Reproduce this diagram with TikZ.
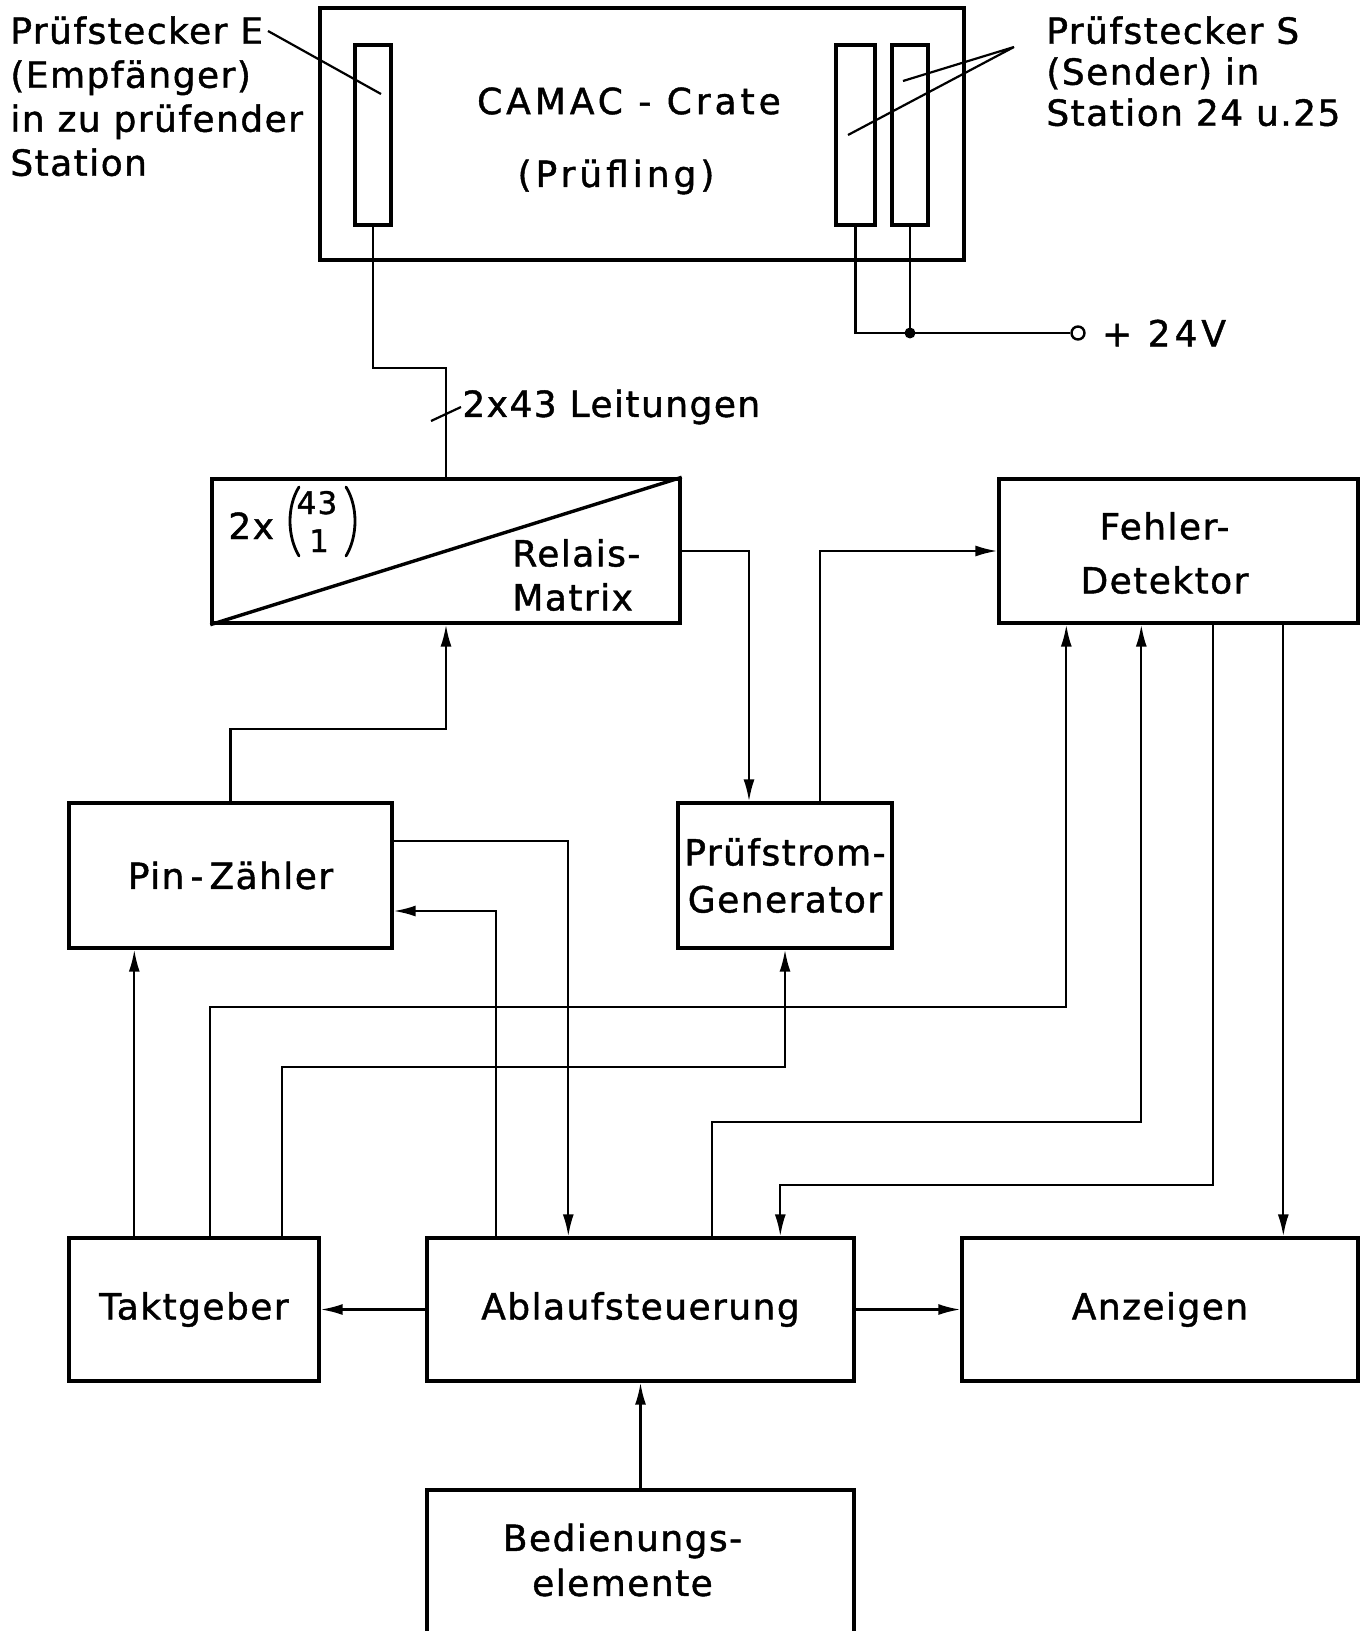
\documentclass[tikz,border=0pt]{standalone}
\usepackage{fontspec}
\setmainfont{DejaVu Sans}[LetterSpace=4,FakeBold=1.2]
\usetikzlibrary{arrows.meta,positioning,calc}

\begin{document}
\begin{tikzpicture}[
  x=0.5pt, y=-0.5pt,
  every node/.style={font=\fontsize{18}{22}\selectfont, align=center},
  block/.style={rectangle, draw, line width=1.7pt, inner sep=2pt},
  slot/.style={rectangle, draw, line width=1.6pt, minimum width=18pt, minimum height=90pt, inner sep=0pt},
  note/.style={align=left, inner sep=0pt},
  spaced/.style={font=\fontsize{18}{22}\selectfont\addfontfeature{LetterSpace=11}},
  digit/.style={font=\fontsize{15.5}{18}\selectfont, inner sep=0pt, anchor=base},
  paren/.style={line width=1.4pt, line cap=round},
  wire/.style={draw, line width=1.1pt},
  sig/.style={draw, line width=1.1pt, -{Latex[length=11pt,width=5.5pt]}},
  dot/.style={circle, fill, inner sep=0pt, minimum size=5.5pt},
  terminal/.style={circle, draw, line width=1.2pt, inner sep=0pt, minimum size=6.5pt}
]
  \useasboundingbox (0,0) rectangle (1366,1631);

  \node[block, minimum width=322pt, minimum height=126pt] (crate) at (642,134) {};
  \node[spaced] (cratetxt) at (629,101) {CAMAC - Crate};
  \node[spaced] (pruefl) at (616,177) {(Prüfling)};
  \node[slot] (slotE) at (373,135) {};
  \node[slot, minimum width=19.5pt] (slotS1) at (855.5,135) {};
  \node[slot] (slotS2) at (910,135) {};

  \node[note, anchor=north west] (lblE) at (10,16) {Prüfstecker E\\(Empfänger)\\in zu prüfender\\Station};
  \node[note, anchor=north west, font=\fontsize{18}{20.5}\selectfont] (lblS) at (1046,16) {Prüfstecker S\\(Sender) in\\Station 24 u.25};
  \coordinate (eStart) at (268,31);
  \coordinate (eTip) at (381,94);
  \coordinate (sApex) at (1014,47);
  \coordinate (sTip1) at (903,81);
  \coordinate (sTip2) at (848,135);
  \draw[wire] (eStart) -- (eTip);
  \draw[wire] (sTip1) -- (sApex) -- (sTip2);

  \node[terminal] (vplus) at (1078,333) {};
  \node[right=8pt of vplus, inner sep=0pt, spaced] (vlab) {+ 24V};
  \node[dot] (junc) at (slotS2.south |- vplus) {};
  \draw[wire] (slotS1.south) |- (vplus.west);
  \draw[wire] (slotS2.south) -- (junc.center);

  \node[block, minimum width=234pt, minimum height=72pt] (relais) at (446,551) {};
  \draw[line width=1.7pt] (relais.south west) -- (relais.north east);
  \node[anchor=base west, inner sep=0pt] (twox) at (228,539) {2x};
  \node[digit] (nTop) at (317,514) {43};
  \node[digit] (nBot) at (319,552) {1};
  \draw[paren] (299,487) .. controls (287,506) and (287,536) .. (299,556);
  \draw[paren] (346,487) .. controls (358,506) and (358,536) .. (346,556);
  \node[note, anchor=west] (relaistxt) at (512,575) {Relais-\\Matrix};

  \node[block, minimum width=179.5pt, minimum height=72pt] (fehler) at (1178.5,551) {};
  \node[font=\fontsize{18}{27}\selectfont] (fehlertxt) at ($(fehler)+(-14,2)$) {Fehler-\\Detektor};
  \node[block, minimum width=161.5pt, minimum height=72.5pt] (pinz) at (230.5,875.5) {Pin\,-\,Zähler};
  \node[block, minimum width=107pt, minimum height=72.5pt, inner sep=1pt, font=\fontsize{18}{23.5}\selectfont] (pgen) at (785,875.5) {Prüfstrom-\\Generator};
  \node[block, minimum width=125pt, minimum height=71.5pt] (takt) at (194,1309.5) {Taktgeber};
  \node[block, minimum width=213.5pt, minimum height=71.5pt] (ablauf) at (640.5,1309.5) {Ablaufsteuerung};
  \node[block, minimum width=198pt, minimum height=71.5pt] (anzeig) at (1160,1309.5) {Anzeigen};
  \node[block, minimum width=213.5pt, minimum height=74pt] (bedien) at (640.5,1564) {};
  \node[font=\fontsize{18}{22.5}\selectfont] (bedientxt) at ($(bedien)+(-18,-4)$) {Bedienungs-\\elemente};

  \draw[wire] (slotE.south) -- ++(0,141) -| (relais.north);
  \coordinate (tick) at (relais.north |- 0,414);
  \draw[wire] ($(tick)+(-15,7)$) -- ($(tick)+(15,-7)$);
  \node[anchor=west, inner sep=0pt] (leit) at ($(tick)+(16,-7)$) {2x43 Leitungen};

  \coordinate (t1) at ($(takt.north west)+(67,0)$);
  \coordinate (t2) at ($(takt.north west)+(143,0)$);
  \coordinate (t3) at ($(takt.north west)+(215,0)$);
  \coordinate (a1) at ($(ablauf.north west)+(143,0)$);
  \coordinate (a2) at ($(ablauf.north west)+(71,0)$);
  \coordinate (a3) at ($(ablauf.north west)+(287,0)$);
  \coordinate (a4) at ($(ablauf.north west)+(355,0)$);
  \coordinate (f1) at ($(fehler.south west)+(69,0)$);
  \coordinate (f2) at ($(fehler.south west)+(144,0)$);
  \coordinate (f3) at ($(fehler.south west)+(216,0)$);
  \coordinate (f4) at ($(fehler.south west)+(286,0)$);

  \draw[sig] (pinz.north) -- ++(0,-72) -| (relais.south);
  \draw[sig] (relais.east) -| ($(pgen.north)+(-36,0)$);
  \draw[sig] ($(pgen.north)+(35,0)$) |- (fehler.west);
  \draw[sig] (t1) -- (t1 |- pinz.south);
  \draw[sig] (t2) -- ++(0,-229) -| (f1);
  \draw[sig] (t3) -- ++(0,-169) -| (pgen.south);
  \draw[sig] ($(pinz.east)+(0,-34.5)$) -| (a1);
  \draw[sig] (a2) |- ($(pinz.east)+(0,35.5)$);
  \draw[sig] (a3) -- ++(0,-114) -| (f2);
  \draw[sig] (f3) -- ++(0,560) -| (a4);
  \draw[sig] (f4) -- (f4 |- anzeig.north);
  \draw[sig] (ablauf.west) -- (takt.east);
  \draw[sig] (ablauf.east) -- (anzeig.west);
  \draw[sig] (bedien.north) -- (ablauf.south);
\end{tikzpicture}
\end{document}
